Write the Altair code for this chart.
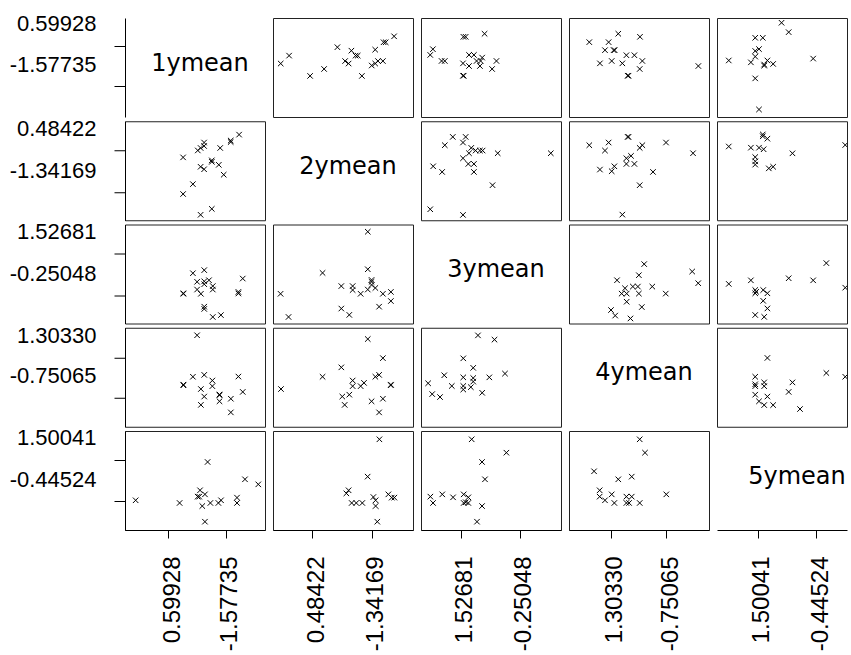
import altair as alt
import pandas as pd

# Variables of the scatterplot matrix
names = ["1ymean", "2ymean", "3ymean", "4ymean", "5ymean"]
# Tick labels as printed (first = left / upper tick, second = right / lower tick)
label_a = ["0.59928", "0.48422", "1.52681", "1.30330", "1.50041"]
label_b = ["-1.57735", "-1.34169", "-0.25048", "-0.75065", "-0.44524"]
# Tick positions in (scaled) data units for each variable
tick_lo = [0.31, 0.28, 0.283, 0.297, 0.29]
tick_hi = [0.72, 0.705, 0.704, 0.696, 0.71]

# Pairwise observations (values of variable i, variable j), scaled units
pair_1_2 = [(.54, .055), (.62, .115), (.415, .265), (.485, .365), (.705, .46), (.565, .515),
            (.54, .54), (.67, .56), (.62, .59), (.62, .605), (.415, .635), (.52, .705),
            (.68, .73), (.54, .73), (.565, .75), (.565, .785), (.755, .79), (.755, .805),
            (.815, .865)]
pair_1_3 = [(.627, .066), (.685, .085), (.566, .147), (.566, .170), (.810, .303), (.810, .319),
            (.841, .454), (.627, .343), (.627, .378), (.542, .300), (.515, .343), (.417, .300),
            (.417, .305), (.566, .397), (.566, .426), (.600, .437), (.515, .421), (.566, .539),
            (.485, .508)]
pair_1_4 = [(.756, .145), (.841, .352), (.810, .507), (.756, .283), (.675, .257), (.675, .319),
            (.675, .326), (.542, .221), (.566, .305), (.542, .381), (.624, .410), (.624, .467),
            (.566, .524), (.485, .505), (.417, .419), (.417, .425), (.515, .924)]
pair_1_5 = [(.076, .300), (.390, .273), (.590, .687), (.536, .401), (.571, .360), (.519, .337),
            (.530, .337), (.552, .242), (.610, .273), (.667, .273), (.686, .300), (.800, .327),
            (.800, .273), (.857, .512), (.952, .461), (.571, .084)]
pair_2_3 = [(.758, .170), (.842, .227), (.842, .319), (.785, .300), (.731, .359), (.704, .390),
            (.704, .421), (.704, .440), (.677, .343), (.626, .300), (.569, .338), (.569, .378),
            (.488, .378), (.677, .548), (.677, .927), (.545, .087), (.488, .151), (.354, .511),
            (.111, .066), (.054, .300)]
pair_2_4 = [(.758, .145), (.785, .283), (.842, .419), (.842, .425), (.704, .257), (.758, .524),
            (.731, .505), (.785, .693), (.677, .886), (.650, .443), (.626, .410), (.512, .221),
            (.545, .324), (.495, .305), (.569, .410), (.569, .467), (.488, .600), (.354, .505),
            (.057, .381)]
pair_2_5 = [(.760, .916), (.676, .539), (.540, .401), (.524, .370), (.562, .273), (.595, .273),
            (.638, .273), (.717, .333), (.733, .300), (.733, .242), (.824, .360), (.848, .327),
            (.867, .327), (.745, .084)]
pair_3_4 = [(.600, .537), (.488, .499), (.437, .343), (.356, .400), (.373, .456), (.373, .492),
            (.373, .595), (.302, .376), (.302, .412), (.302, .499), (.302, .691), (.220, .412),
            (.166, .520), (.136, .300), (.080, .330), (.051, .439), (.525, .880), (.407, .923)]
pair_3_5 = [(.362, .916), (.610, .781), (.436, .687), (.457, .512), (.067, .337), (.086, .273),
            (.152, .360), (.229, .330), (.305, .360), (.338, .330), (.305, .273), (.338, .273),
            (.320, .280), (.436, .242), (.400, .084)]
pair_4_5 = [(.505, .916), (.543, .781), (.179, .593), (.352, .512), (.448, .539), (.219, .401),
            (.219, .337), (.257, .300), (.305, .360), (.324, .273), (.410, .337), (.448, .337),
            (.410, .273), (.429, .273), (.505, .273), (.695, .360)]

pairs = {
    (0, 1): pair_1_2, (0, 2): pair_1_3, (0, 3): pair_1_4, (0, 4): pair_1_5,
    (1, 2): pair_2_3, (1, 3): pair_2_4, (1, 4): pair_2_5,
    (2, 3): pair_3_4, (2, 4): pair_3_5, (3, 4): pair_4_5,
}

W, H = 140, 99
W_LAST = 130          # last column is cut by the page edge
FONT = "Liberation Sans"
MARKER = "M-1,-1L1,1M-1,1L1,-1"


def x_scale(col):
    hi = W_LAST / W if col == 4 else 1.0
    return alt.Scale(domain=[0, hi], nice=False, zero=False)


Y_SCALE = alt.Scale(domain=[0, 1], nice=False, zero=False)


def x_axis(k):
    return alt.Axis(values=[tick_lo[k], tick_hi[k]],
                    labelExpr=f"datum.value < 0.5 ? '{label_a[k]}' : '{label_b[k]}'",
                    tickSize=8, labelPadding=18, labelAngle=270, labelOffset=4,
                    labelFontSize=24, labelFont=FONT, grid=False)


def y_axis(k):
    return alt.Axis(values=[tick_lo[k], tick_hi[k]],
                    labelExpr=f"datum.value > 0.5 ? '{label_a[k]}' : '{label_b[k]}'",
                    tickSize=11, labelPadding=18, labelOffset=-22,
                    labelFontSize=22, labelFont=FONT, grid=False)


charts = []
for r in range(5):
    for c in range(5):
        xa = x_axis(c) if r == 4 else None
        ya = y_axis(r) if c == 0 else None
        w = W_LAST if c == 4 else W
        if r == c:
            df = pd.DataFrame({"x": [0.5], "y": [0.5], "t": [names[r]]})
            ch = alt.Chart(df).mark_text(font="DejaVu Sans", fontSize=24, color="black",
                                         dy=-4, dx=(5 if c < 4 else 5 + (W - W_LAST) / 2)).encode(
                x=alt.X("x:Q", scale=alt.Scale(domain=[0, 1], nice=False, zero=False) if c < 4 else x_scale(4),
                        axis=xa, title=None),
                y=alt.Y("y:Q", scale=Y_SCALE, axis=ya, title=None),
                text="t:N",
            ).properties(width=w, height=H, view=alt.ViewBackground(stroke="transparent"))
        else:
            if r < c:
                pts = pairs[(r, c)]
                xs = [p[1] for p in pts]
                ys = [p[0] for p in pts]
            else:
                pts = pairs[(c, r)]
                xs = [p[0] for p in pts]
                ys = [p[1] for p in pts]
            df = pd.DataFrame({"x": xs, "y": ys})
            ch = alt.Chart(df).mark_point(shape=MARKER, size=30, filled=False, stroke="black",
                                          strokeWidth=1, opacity=1, clip=True).encode(
                x=alt.X("x:Q", scale=x_scale(c), axis=xa, title=None),
                y=alt.Y("y:Q", scale=Y_SCALE, axis=ya, title=None),
            ).properties(width=w, height=H)
        charts.append(ch)

chart = alt.concat(*charts, columns=5, spacing={"row": 4.25, "column": 8}, bounds="flush").properties(
    padding={"left": 8, "top": 12, "right": 0, "bottom": 0}, background="white"
).configure_view(stroke="#222222", strokeWidth=1).configure_axis(
    domainColor="black", tickColor="black", labelColor="black", domainWidth=1, tickWidth=1
)

chart.save("out.html", embed_options={"renderer": "svg", "actions": False})
